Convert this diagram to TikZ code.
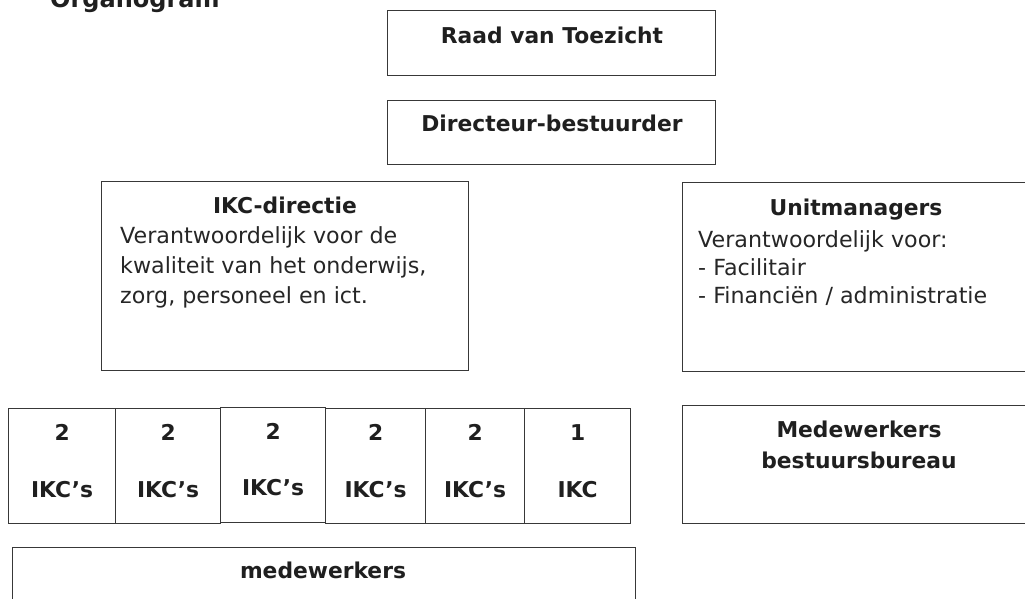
\documentclass[tikz,border=0pt]{standalone}
\usepackage{fontspec}
\setmainfont{DejaVu Sans}
\begin{document}
\begin{tikzpicture}[x=1pt,y=-1pt,
  box/.style={draw=black!78, line width=1.2pt, inner sep=0pt, anchor=north west},
  bt/.style={font=\fontsize{21.8}{26}\selectfont\bfseries, text=black!88, inner sep=0pt, anchor=base},
  rt/.style={font=\fontsize{22.2}{26}\selectfont, text=black!85, inner sep=0pt, anchor=base west},
  ikc/.style={box, minimum height=115pt}]
\useasboundingbox (0,0) rectangle (1025,598);

% title (cut at the top, as in the reference)
\node[font=\fontsize{24}{28}\selectfont\bfseries, text=black!88, inner sep=0pt, anchor=base west] (title) at (50,7) {Organogram};

% top boxes
\node[box, minimum width=328pt, minimum height=65pt] (raad) at (387,10) {};
\node[bt] (traad) at (552,43) {Raad van Toezicht};
\node[box, minimum width=328pt, minimum height=64pt] (dir) at (387,100) {};
\node[bt] (tdir) at (552,131) {Directeur-bestuurder};

% IKC-directie
\node[box, minimum width=367pt, minimum height=189pt] (ikcdir) at (101,181) {};
\node[bt] (tikcdir) at (285,213) {IKC-directie};
\node[rt] (l1) at (120,243) {Verantwoordelijk voor de};
\node[rt] (l2) at (120,273) {kwaliteit van het onderwijs,};
\node[rt] (l3) at (120,303) {zorg, personeel en ict.};

% Unitmanagers
\node[box, minimum width=348pt, minimum height=189pt] (unit) at (682,182) {};
\node[bt] (tunit) at (856,215) {Unitmanagers};
\node[rt] (u1) at (698,247) {Verantwoordelijk voor:};
\node[rt] (u2) at (698,275) {- Facilitair};
\node[rt] (u3) at (698,303) {- Financiën / administratie};

% Medewerkers bestuursbureau
\node[box, minimum width=348pt, minimum height=118pt] (mbb) at (682,405) {};
\node[bt] (tmbb1) at (859,437) {Medewerkers};
\node[bt] (tmbb2) at (859,468) {bestuursbureau};

% IKC row
\node[ikc, minimum width=107pt] (k1) at (8,408) {};
\node[ikc, minimum width=105pt] (k2) at (115,408) {};
\node[ikc, minimum width=105pt] (k3) at (220,407) {};
\node[ikc, minimum width=100pt] (k4) at (325,408) {};
\node[ikc, minimum width=99pt] (k5) at (425,408) {};
\node[ikc, minimum width=106pt] (k6) at (524,408) {};
\node[bt] (n1) at (k1.center |- 0,440) {2};
\node[bt] (n2) at (k2.center |- 0,440) {2};
\node[bt] (n3) at (k3.center |- 0,439) {2};
\node[bt] (n4) at (k4.center |- 0,440) {2};
\node[bt] (n5) at (k5.center |- 0,440) {2};
\node[bt] (n6) at (k6.center |- 0,440) {1};
\node[bt] (s1) at (k1.center |- 0,497) {IKC’s};
\node[bt] (s2) at (k2.center |- 0,497) {IKC’s};
\node[bt] (s3) at (k3.center |- 0,495) {IKC’s};
\node[bt] (s4) at (k4.center |- 0,497) {IKC’s};
\node[bt] (s5) at (k5.center |- 0,497) {IKC’s};
\node[bt] (s6) at (k6.center |- 0,497) {IKC};

% medewerkers
\node[box, minimum width=623pt, minimum height=70pt] (mw) at (12,547) {};
\node[bt] (tmw) at (323,578) {medewerkers};
\end{tikzpicture}
\end{document}
